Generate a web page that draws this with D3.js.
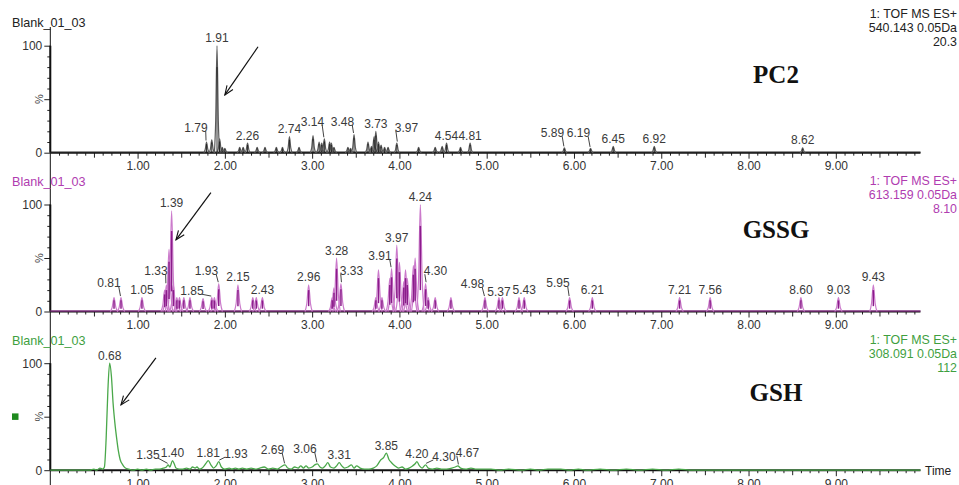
<!DOCTYPE html>
<html>
<head>
<meta charset="utf-8">
<script src="https://cdn.jsdelivr.net/npm/d3@7"></script>
<style>
  html, body { margin: 0; padding: 0; background: #fff; }
  svg { display: block; font-family: "Liberation Sans", Arial, sans-serif; }
</style>
</head>
<body>
<svg id="chart" width="959" height="485"></svg>
<script>
// ---------- data ----------
// Retention-time axis (minutes)
const timeTicks = [1, 2, 3, 4, 5, 6, 7, 8, 9];
const timeEnd = 9.97;

// Channel headers
const sampleNames = ["Blank_01_03", "Blank_01_03", "Blank_01_03"];
const compounds = ["PC2", "GSSG", "GSH"];
const functionLines = [
  ["1: TOF MS ES+", "540.143 0.05Da", "20.3"],
  ["1: TOF MS ES+", "613.159 0.05Da", "8.10"],
  ["1: TOF MS ES+", "308.091 0.05Da", "112"]
];

// PC2 (m/z 540.143) peaks: [retention time, % of base peak]
const pc2Peaks = [
  [1.79, 10], [1.85, 12], [1.91, 100], [1.94, 13], [1.97, 5], [2.00, 4],
  [2.17, 5], [2.21, 5], [2.26, 9], [2.37, 5], [2.46, 5], [2.59, 5], [2.66, 5],
  [2.74, 15], [2.85, 5], [3.01, 16], [3.08, 10], [3.11, 9], [3.14, 13],
  [3.20, 10], [3.22, 9], [3.25, 5], [3.41, 5], [3.44, 4], [3.48, 17],
  [3.64, 10], [3.68, 6], [3.71, 15], [3.73, 20], [3.76, 10], [3.79, 7],
  [3.83, 5], [3.87, 5], [3.97, 9], [4.22, 5], [4.41, 5], [4.49, 6], [4.54, 9],
  [4.70, 5], [4.81, 9], [5.89, 4.5], [6.19, 4], [6.45, 6], [6.92, 6], [8.62, 4.5]
];
const pc2Labels = ["1.79", "1.91", "2.26", "2.74", "3.14", "3.48", "3.73", "3.97",
  "4.54", "4.81", "5.89", "6.19", "6.45", "6.92", "8.62"];

// GSSG (m/z 613.159) peaks
const gssgPeaks = [
  [0.73, 13], [0.81, 13], [1.05, 13], [1.31, 20], [1.33, 25], [1.36, 58],
  [1.39, 94], [1.41, 25], [1.45, 13], [1.48, 13], [1.53, 13], [1.60, 13],
  [1.75, 12], [1.85, 13], [1.88, 13], [1.93, 26], [2.15, 25], [2.32, 13],
  [2.36, 13], [2.43, 13], [2.96, 25], [3.23, 13], [3.25, 22], [3.28, 50],
  [3.33, 26], [3.73, 13], [3.76, 39], [3.80, 13], [3.89, 31], [3.91, 40],
  [3.97, 62], [4.00, 46], [4.05, 28], [4.07, 39], [4.09, 31], [4.16, 43],
  [4.18, 50], [4.24, 100], [4.30, 26], [4.33, 13], [4.41, 13], [4.59, 13],
  [4.98, 13], [5.14, 13], [5.18, 13], [5.37, 13], [5.43, 13], [5.95, 13],
  [6.21, 13], [7.21, 13], [7.56, 13], [8.60, 13], [9.03, 13], [9.43, 25]
];
const gssgLabels = ["0.81", "1.05", "1.33", "1.39", "1.85", "1.93", "2.15", "2.43",
  "2.96", "3.28", "3.33", "3.91", "3.97", "4.24", "4.30", "4.98", "5.37", "5.43",
  "5.95", "6.21", "7.21", "7.56", "8.60", "9.03", "9.43"];

// GSH (m/z 308.091) continuous trace: [retention time, %]
const gshTrace = [
  [0.00, 0], [0.45, 0], [0.50, 1], [0.53, 0], [0.57, 2], [0.60, 1], [0.62, 3],
  [0.64, 30], [0.66, 75], [0.68, 100], [0.70, 88], [0.72, 62], [0.74, 44],
  [0.76, 30], [0.78, 18], [0.80, 10], [0.83, 5], [0.86, 2], [0.90, 1], [0.95, 0],
  [1.00, 1], [1.05, 0], [1.10, 1], [1.15, 0], [1.20, 1], [1.25, 1], [1.30, 2],
  [1.33, 3], [1.35, 5], [1.37, 3], [1.40, 9], [1.42, 6], [1.44, 2], [1.48, 1],
  [1.52, 1], [1.56, 2], [1.60, 1], [1.63, 3], [1.66, 2], [1.68, 3], [1.71, 1],
  [1.74, 2], [1.78, 6], [1.81, 9], [1.84, 5], [1.87, 2], [1.90, 4], [1.93, 8],
  [1.96, 3], [2.00, 1], [2.05, 2], [2.08, 1], [2.12, 2], [2.16, 1], [2.20, 2],
  [2.25, 1], [2.30, 2], [2.35, 1], [2.40, 2], [2.45, 3], [2.50, 1], [2.55, 2],
  [2.60, 1], [2.64, 3], [2.69, 5], [2.72, 2], [2.76, 1], [2.80, 3], [2.84, 2],
  [2.87, 4], [2.90, 2], [2.93, 4], [2.96, 2], [3.00, 3], [3.03, 5], [3.06, 6],
  [3.09, 3], [3.12, 2], [3.15, 4], [3.18, 7], [3.21, 3], [3.25, 2], [3.28, 4],
  [3.31, 7], [3.34, 4], [3.37, 2], [3.41, 3], [3.45, 5], [3.48, 2], [3.51, 4],
  [3.55, 2], [3.60, 1], [3.65, 1], [3.70, 2], [3.74, 4], [3.78, 9], [3.82, 12],
  [3.85, 16], [3.88, 10], [3.91, 7], [3.95, 4], [3.99, 2], [4.03, 3], [4.07, 1],
  [4.11, 2], [4.15, 4], [4.18, 6], [4.20, 8], [4.23, 4], [4.26, 2], [4.30, 5],
  [4.33, 2], [4.38, 1], [4.43, 2], [4.48, 1], [4.54, 1], [4.60, 2], [4.64, 3],
  [4.67, 4], [4.70, 2], [4.76, 1], [4.82, 2], [4.88, 1], [4.95, 1], [5.05, 1],
  [5.15, 0], [5.25, 1], [5.40, 0], [5.50, 1], [5.60, 0], [5.70, 1], [5.85, 1],
  [5.95, 0], [6.05, 1], [6.15, 0], [6.30, 1], [6.45, 0], [6.60, 1], [6.75, 0],
  [6.90, 1], [7.05, 0], [7.20, 1], [7.35, 0], [9.97, 0]
];
const gshLabels = ["0.68", "1.35", "1.40", "1.81", "1.93", "2.69", "3.06", "3.31",
  "3.85", "4.20", "4.30", "4.67"];

// Annotation arrows per channel: [[tail time, tail %], [head time, head %]]
const arrows = [
  [[2.38, 99], [2.00, 54]],
  [[1.84, 111], [1.44, 67]],
  [[1.21, 105], [0.81, 61]]
];

// ---------- layout ----------
const W = 959, H = 485;
const baselines = [152.7, 311.5, 470.2];
const plotHeight = 107;
const colors = ["#2b2b2b", "#b23db2", "#4aa84a"];
const headerColors = ["#222", "#b03cb0", "#3f9f3f"];
const labelColor = "#3a3a3a";

// label nudges (pixels): [dx, baseline offset from apex, leader?]
const nudges = [
  { "1.79": [-10.5, -10.3, 1], "3.14": [-11.9, -13.1, 1], "3.48": [-11.5, -8.8, 1],
    "3.97": [9.7, -11.4, 1], "5.89": [-11.9, -10.6, 1], "6.19": [-12.1, -11, 1] },
  { "0.81": [-12, -10.2, 1], "1.33": [-10.4, -9.6, 1], "1.85": [-19.8, -2.4, 1],
    "1.93": [-12.3, -8.5, 1], "3.33": [10.5, -8.5, 1], "3.91": [-11.6, -8.8, 1],
    "4.30": [9.9, -8.5, 1], "4.98": [-12.5, -9.5, 1], "5.37": [-20, -1.8, 0],
    "5.95": [-11.6, -10.2, 1] },
  { "1.35": [-20.1, -5.9, 1], "1.93": [17.2, -3.6, 1], "2.69": [-12.6, -10.9, 1],
    "3.06": [-12.4, -10.8, 1], "4.30": [18.4, -3.9, 1], "4.67": [9.6, -9.2, 1] }
];
const rightHeaderOffsets = [-134.4, -126.2, -125.9];
const titleOffsets = [-69.4, -73.2, -68.9];

const svg = d3.select("#chart");

const x = d3.scaleLinear().domain([0, 10]).range([50.3, 923.1]);
const fmt = d3.format(".2f");

// arrow head
svg.append("defs").append("marker")
  .attr("id", "arrowhead")
  .attr("viewBox", "-10 -5 11 10")
  .attr("refX", 0).attr("refY", 0)
  .attr("markerWidth", 11).attr("markerHeight", 10)
  .attr("markerUnits", "userSpaceOnUse")
  .attr("orient", "auto")
  .append("path")
  .attr("d", "M-9,-3.6 L0,0 L-9,3.6")
  .attr("fill", "none").attr("stroke", "#111").attr("stroke-width", 1.1);

// shared y-axis spine
svg.append("line")
  .attr("x1", x(0)).attr("x2", x(0))
  .attr("y1", 27).attr("y2", H)
  .attr("stroke", "#111").attr("stroke-width", 1);

const panels = [
  { peaks: pc2Peaks, labels: pc2Labels, width: 0.03 },
  { peaks: gssgPeaks, labels: gssgLabels, width: 0.042 },
  { trace: gshTrace, labels: gshLabels }
];

panels.forEach((p, i) => {
  const base = baselines[i];
  const y = d3.scaleLinear().domain([0, 100]).range([base, base - plotHeight]);
  const g = svg.append("g");
  const col = colors[i];

  // x axis ticks
  const minor = d3.range(1, 100).map(d => d / 10).filter(d => Math.abs(d - Math.round(d)) > 1e-6);
  const half = minor.filter(d => Math.abs(d * 2 - Math.round(d * 2)) < 1e-6);
  const small = minor.filter(d => !half.includes(d));
  const axMinor = g.append("g").attr("transform", `translate(0,${base})`)
    .call(d3.axisBottom(x).tickValues(small).tickSize(3).tickFormat(""));
  const axHalf = g.append("g").attr("transform", `translate(0,${base})`)
    .call(d3.axisBottom(x).tickValues(half).tickSize(5).tickFormat(""));
  const axMajor = g.append("g").attr("transform", `translate(0,${base})`)
    .call(d3.axisBottom(x).tickValues(timeTicks).tickSize(6).tickPadding(3).tickFormat(fmt));
  [axMinor, axHalf, axMajor].forEach(a => {
    a.select(".domain").remove();
    a.selectAll("line").attr("stroke", "#222").attr("stroke-width", 1);
  });
  axMajor.selectAll("text").attr("font-size", 12).attr("fill", "#333")
    .attr("font-family", "Liberation Sans, Arial, sans-serif");

  // x axis line
  g.append("line")
    .attr("x1", x(0)).attr("x2", x(timeEnd))
    .attr("y1", base).attr("y2", base)
    .attr("stroke", "#111").attr("stroke-width", 2);

  // y axis
  const yMinor = g.append("g").attr("transform", `translate(${x(0)},0)`)
    .call(d3.axisLeft(y).tickValues([10, 20, 30, 40, 60, 70, 80, 90]).tickSize(3).tickFormat(""));
  const yMajor = g.append("g").attr("transform", `translate(${x(0)},0)`)
    .call(d3.axisLeft(y).tickValues([0, 50, 100]).tickSize(6).tickPadding(2)
      .tickFormat(d => d === 50 ? "" : d));
  [yMinor, yMajor].forEach(a => {
    a.select(".domain").remove();
    a.selectAll("line").attr("stroke", "#222");
  });
  yMajor.selectAll("text").attr("font-size", 12).attr("fill", "#333")
    .attr("font-family", "Liberation Sans, Arial, sans-serif");
  g.append("line")
    .attr("x1", x(0)).attr("x2", x(0))
    .attr("y1", y(100)).attr("y2", y(0))
    .attr("stroke", "#111").attr("stroke-width", 2);
  g.append("text")
    .attr("transform", `translate(38.5,${y(50)}) rotate(-90)`)
    .attr("text-anchor", "middle").attr("dominant-baseline", "central")
    .attr("font-size", 11).attr("fill", "#444").text("%");

  // headers
  g.append("text").attr("x", 12).attr("y", base - 125.5)
    .attr("font-size", 12.6).attr("fill", headerColors[i]).text(sampleNames[i]);
  functionLines[i].forEach((t, k) => {
    g.append("text").attr("x", 957).attr("y", base + rightHeaderOffsets[i] + k * 13.6)
      .attr("text-anchor", "end").attr("font-size", 12.4)
      .attr("fill", headerColors[i]).text(t);
  });
  g.append("text").attr("x", 776).attr("y", base + titleOffsets[i])
    .attr("text-anchor", "middle")
    .attr("font-family", "Liberation Serif, Times New Roman, serif")
    .attr("font-weight", "bold").attr("font-size", 25).attr("fill", "#111")
    .text(compounds[i]);

  // trace
  let apexOf;
  if (p.peaks) {
    // baseline of the trace
    g.append("line")
      .attr("x1", x(0)).attr("x2", x(timeEnd))
      .attr("y1", base - 0.5).attr("y2", base - 0.5)
      .attr("stroke", col).attr("stroke-width", 1);
    const line = d3.line().x(d => x(d[0])).y(d => y(d[1])).curve(d3.curveMonotoneX);
    const w = p.width;
    const light = i === 1 ? "#cb7acb" : "#5a5a5a";
    const dark = i === 1 ? "#8b1c8b" : "#1a1a1a";
    g.selectAll(null).data(p.peaks).join("path")
      .attr("d", d => line([[d[0] - w, 0], [d[0] - w * 0.5, d[1] * 0.3], [d[0], d[1]],
                            [d[0] + w * 0.5, d[1] * 0.3], [d[0] + w, 0]]))
      .attr("fill", "none").attr("stroke", light).attr("stroke-width", 1.2);
    g.selectAll(null).data(p.peaks).join("line")
      .attr("x1", d => x(d[0])).attr("x2", d => x(d[0]))
      .attr("y1", d => i === 1 ? y(d[1] * 0.2) : y(0))
      .attr("y2", d => y(d[1] * 0.8))
      .attr("stroke", dark).attr("stroke-width", i === 1 ? 1.5 : 0.9);
    apexOf = lab => {
      const t = +lab;
      const pk = p.peaks.reduce((a, b) => Math.abs(b[0] - t) < Math.abs(a[0] - t) ? b : a);
      return [x(pk[0]), y(pk[1])];
    };
  } else {
    g.append("path").datum(p.trace)
      .attr("d", d3.line().x(d => x(d[0])).y(d => y(d[1])).curve(d3.curveMonotoneX))
      .attr("fill", "none").attr("stroke", col).attr("stroke-width", 1.3);
    apexOf = lab => {
      const t = +lab;
      const pt = p.trace.reduce((a, b) => Math.abs(b[0] - t) < Math.abs(a[0] - t) ? b : a);
      return [x(pt[0]), y(pt[1])];
    };
    // channel marker
    g.append("rect").attr("x", 12).attr("y", y(50) - 3.3)
      .attr("width", 6.5).attr("height", 6.5).attr("fill", "#1f8a1f");
    // time axis title
    g.append("text").attr("x", 925).attr("y", base + 4.5)
      .attr("font-size", 12).attr("fill", "#222").text("Time");
  }

  // peak labels
  p.labels.forEach(lab => {
    const [ax, ay] = apexOf(lab);
    const nd = nudges[i][lab] || [0, -3.5, 0];
    const tx = ax + nd[0], ty = ay + nd[1];
    const txt = g.append("text").attr("x", tx).attr("y", ty)
      .attr("text-anchor", "middle").attr("font-size", 12)
      .attr("fill", labelColor).text(lab);
    if (nd[2]) {
      const half = txt.node().getComputedTextLength() / 2;
      const sx = nd[0] < 0 ? tx + half - 2 : tx - half + 1;
      g.append("line")
        .attr("x1", sx).attr("y1", ty - 1)
        .attr("x2", ax + (nd[0] < 0 ? -0.5 : 0.5)).attr("y2", ay - 1.5)
        .attr("stroke", "#444").attr("stroke-width", 1);
    }
  });

  // arrow
  const a = arrows[i];
  g.append("line")
    .attr("x1", x(a[0][0])).attr("y1", y(a[0][1]))
    .attr("x2", x(a[1][0])).attr("y2", y(a[1][1]))
    .attr("stroke", "#111").attr("stroke-width", 1.2)
    .attr("marker-end", "url(#arrowhead)");
});
</script>
</body>
</html>
